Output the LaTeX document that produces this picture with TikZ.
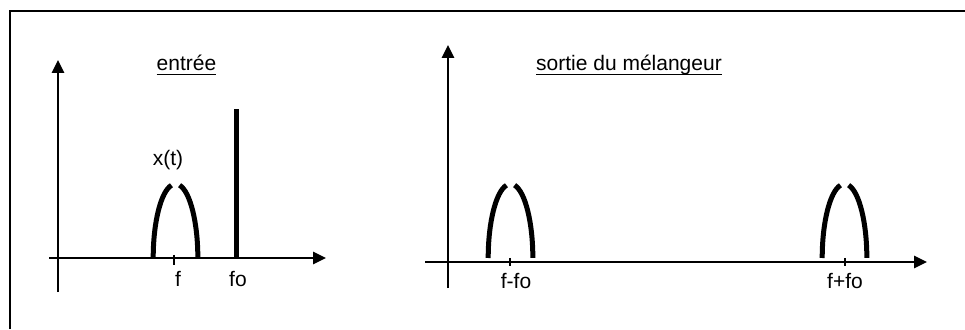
\documentclass[tikz,border=0pt]{standalone}
\usepackage{fontspec}
\setmainfont{Liberation Sans}
\usetikzlibrary{arrows.meta,positioning}

\begin{document}
\begin{tikzpicture}[
  x=1pt, y=1pt,
  font=\fontsize{21}{25}\selectfont,
  axis/.style={line width=1.7pt, -{Triangle[length=13pt,width=12.5pt]}},
  lobe/.style={line width=5pt},
  tickmark/.style={line width=2pt},
  carrier/.style={line width=5pt},
  heading/.style={inner sep=0pt, anchor=base},
  uline/.style={line width=1.8pt},
  lbl/.style={inner sep=0pt, anchor=base}
]
\useasboundingbox (0,0) rectangle (965,329);
\draw[line width=2.2pt] (10,0) |- (965,318);

% left spectrum: input
\coordinate (inY0) at (58,37);
\coordinate (inY1) at (58,269);
\coordinate (inX0) at (49,71);
\coordinate (inX1) at (326,71);
\draw[axis] (inY0) -- (inY1);
\draw[axis] (inX0) -- (inX1);
\node[heading] (entree) at (186.5,258) {entrée};
\draw[uline] ([yshift=-3.5pt]entree.base west) -- ([yshift=-3.5pt]entree.base east);
\node[lbl] (xt) at (168,163) {x(t)};
\draw[carrier] (236,71) -- (236,220);
\draw[tickmark] (174,74) -- (174,64);
\node[lbl] (lblf) at (178,42) {f};
\node[lbl] (lblfo) at (238,42) {fo};

% right spectrum: mixer output
\coordinate (outY0) at (448,41);
\coordinate (outY1) at (448,284);
\coordinate (outX0) at (425,67);
\coordinate (outX1) at (927,67);
\draw[axis] (outY0) -- (outY1);
\draw[axis] (outX0) -- (outX1);
\node[heading] (sortie) at (629,258) {sortie du mélangeur};
\draw[uline] ([yshift=-3.5pt]sortie.base west) -- ([yshift=-3.5pt]sortie.base east);
\foreach \c in {509.5,845}
  \draw[tickmark] (\c,71) -- (\c,63);
\node[lbl] (lblfmfo) at (516,41) {f-fo};
\node[lbl] (lblfpfo) at (845,41) {f+fo};

% spectral lobes
\foreach \c in {175.5,510.5,844.5} {
  \draw[lobe] (\c-22.3,71) arc[start angle=180, end angle=100.5, x radius=22.3, y radius=74];
  \draw[lobe] (\c+4.1,143.8) arc[start angle=79.5, end angle=0, x radius=22.3, y radius=74];
}
\end{tikzpicture}
\end{document}
